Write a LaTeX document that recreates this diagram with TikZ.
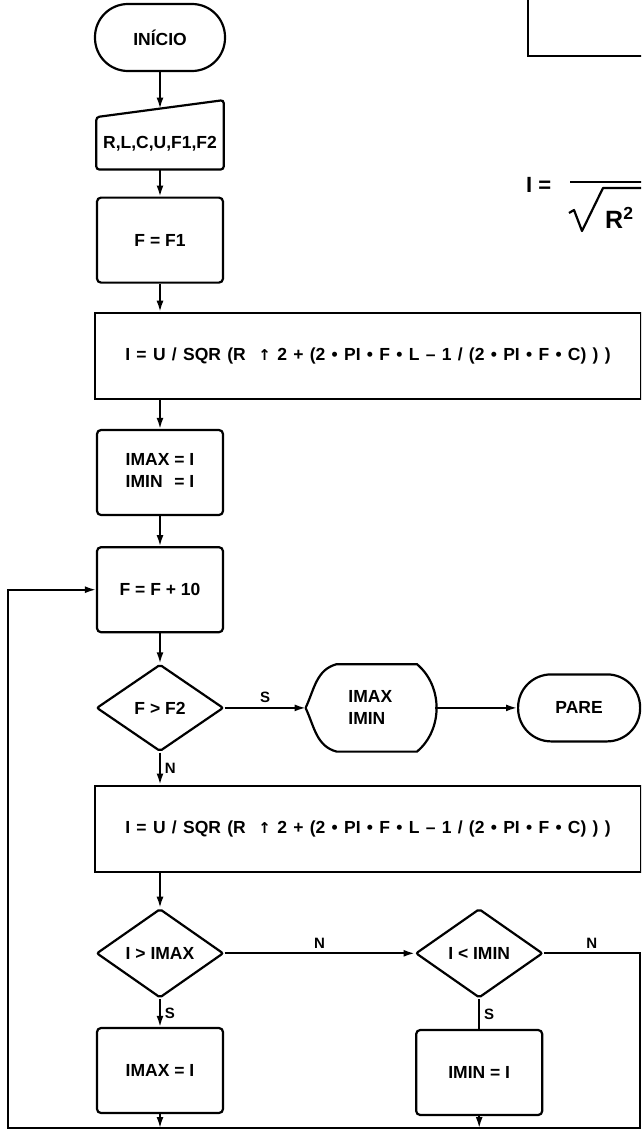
\documentclass[tikz,border=0pt]{standalone}
\usepackage{fontspec}
\setmainfont{Liberation Sans}
\newfontfamily\symfont{DejaVu Sans}
\usepackage{tikz}
\usetikzlibrary{shapes.geometric, arrows.meta, positioning, calc}
\newcommand{\chartfont}{\fontsize{17.5}{22}\selectfont\bfseries}
\newcommand{\widefont}{\chartfont\spaceskip=0.36em plus 0.1em}
\newcommand{\uparr}{{\symfont\fontsize{15}{15}\selectfont ↑}}
\tikzset{
  terminal/.style={
    rectangle, rounded corners=33pt,
    minimum width=130pt, minimum height=67pt,
    draw, line width=2.2pt, inner sep=0pt, font=\chartfont,
  },
  process/.style={
    rectangle, rounded corners=4pt,
    minimum width=126pt, minimum height=85pt,
    draw, line width=2.2pt, inner sep=0pt, font=\chartfont,
  },
  wideproc/.style={
    rectangle,
    minimum width=546pt, minimum height=86pt,
    draw, line width=2.2pt, inner sep=0pt, font=\widefont,
  },
  decision/.style={
    diamond, rounded corners=2pt,
    minimum width=127pt, minimum height=87pt,
    draw, line width=2.2pt, inner sep=0pt, font=\chartfont,
  },
  inputbox/.style={
    rectangle, minimum width=127pt, minimum height=52pt,
    inner sep=0pt, font=\chartfont,
  },
  displaybox/.style={
    rectangle, minimum width=129pt, minimum height=87pt,
    inner sep=0pt, align=left, font=\chartfont,
  },
  outline/.style={line width=2.2pt, rounded corners=3pt},
  arrow/.style={-{Latex[length=11pt,width=7pt]}, line width=1.8pt},
  link/.style={line width=1.8pt},
  tag/.style={font=\fontsize{15}{15}\selectfont\bfseries, inner sep=4pt},
}

\begin{document}
\begin{tikzpicture}

  \fill[white] (0,0) rectangle (641pt,-1132pt);
  \useasboundingbox (0,0) rectangle (641pt,-1132pt);
  \clip (0,0) rectangle (641pt,-1132pt);

  \node[terminal] (inicio) at (160pt,-37.5pt) {INÍCIO};
  \node[inputbox, below=45pt of inicio] (rdin) {R,L,C,U,F1,F2};
  \node[process, below=27pt of rdin] (ff1) {F = F1};
  \node[wideproc, below right=28pt and -2pt of ff1.south west] (calc1)
    {I = U / SQR (R \ \uparr\ 2 + (2 • PI • F • L – 1 / (2 • PI • F • C) ) )};
  \coordinate (c1b) at (ff1.south |- calc1.south);
  \node[process, below=29pt of c1b] (init)
    {\begin{tabular}{@{}l@{\ =\ }l@{}}IMAX & I\\ IMIN & I\end{tabular}};
  \node[process, below=30pt of init] (inc) {F = F + 10};
  \node[decision, below=30pt of inc] (test1) {F > F2};
  \node[displaybox, right=81pt of test1] (disp) {IMAX\\IMIN};
  \node[terminal, minimum width=122pt, right=82pt of disp] (pare) {PARE};
  \coordinate (t1b) at (calc1.west |- test1.south);
  \node[wideproc, below right=32pt and 0pt of t1b] (calc2)
    {I = U / SQR (R \ \uparr\ 2 + (2 • PI • F • L – 1 / (2 • PI • F • C) ) )};
  \coordinate (c2b) at (ff1.south |- calc2.south);
  \node[decision, minimum height=89pt, below=35pt of c2b] (test2) {I > IMAX};
  \node[decision, minimum height=89pt, right=190pt of test2] (test3) {I < IMIN};
  \node[process, below=28pt of test2] (setmax) {IMAX = I};
  \node[process, below=30pt of test3] (setmin) {IMIN = I};

  % loop frame
  \coordinate (loopbot) at (0,-1128pt);
  \coordinate (lx) at (8pt,0);
  \coordinate (rx) at (640pt,0);

  % odd shapes
  \draw[outline] (rdin.south west) -- (rdin.south east)
    -- ($(rdin.north east)+(0,17pt)$) -- (rdin.north west) -- cycle;
  \coordinate (rdtop) at ($(rdin.north)+(0,8.5pt)$);
  \draw[outline, rounded corners=0pt] (disp.west) to[out=65,in=195]
    ($(disp.north west)+(31pt,0)$) -- ($(disp.north east)+(-18pt,0)$)
    to[out=-40,in=40] ($(disp.south east)+(-18pt,0)$)
    -- ($(disp.south west)+(31pt,0)$) to[out=165,in=-65] (disp.west);

  % bits of the page beside
  \node[wideproc, anchor=south west] (prevbox) at (527pt,-57pt) {};
  \node[anchor=west, inner sep=0pt, font=\fontsize{22}{22}\selectfont\bfseries] (ieq)
    at (526pt,-184.5pt) {I =};
  \draw[line width=2.2pt] (570pt,-182pt) -- (700pt,-182pt);
  \draw[line width=2.2pt, line join=round] (569pt,-213pt) -- (574pt,-210pt)
    -- (582pt,-231pt) -- (603pt,-188pt) -- (700pt,-188pt);
  \node[anchor=west, inner sep=0pt, font=\fontsize{25}{25}\selectfont\bfseries] (rsq)
    at (605pt,-218pt) {R\textsuperscript{2}};

  \draw[arrow] (inicio) -- (rdtop);
  \draw[arrow] (rdin) -- (ff1);
  \draw[arrow] (ff1) -- (ff1 |- calc1.north);
  \draw[arrow] (calc1.south -| init) -- (init);
  \draw[arrow] (init) -- (inc);
  \draw[arrow] (inc) -- (test1);
  \draw[arrow] (test1) -- node[tag, above]{S} (disp.west);
  \draw[arrow] (disp.east) -- (pare);
  \draw[arrow] (test1) -- node[tag, right]{N} (test1 |- calc2.north);
  \draw[arrow] (calc2.south -| test2) -- (test2);
  \draw[arrow] (test2) -- node[tag, above]{N} (test3);
  \draw[arrow] (test2) -- node[tag, right]{S} (setmax);
  \draw[link] (test3) -- node[tag, right]{S} (setmin);
  \draw[arrow] (setmax) -- (setmax |- loopbot);
  \draw[arrow] (setmin) -- (setmin |- loopbot);
  \draw[arrow] (test3) -- node[tag, above]{N} (test3 -| rx) -- (rx |- loopbot)
    -- (lx |- loopbot) -- (lx |- inc.west) -- (inc);

\end{tikzpicture}
\end{document}
